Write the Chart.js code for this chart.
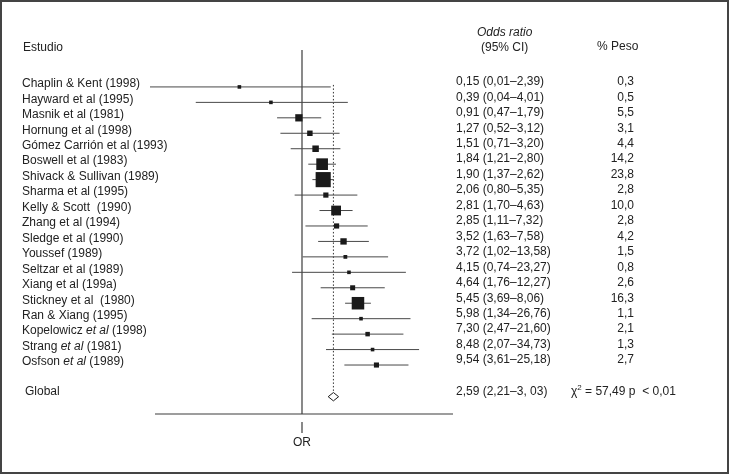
<!DOCTYPE html>
<html>
<head>
<meta charset="utf-8">
<script src="https://cdn.jsdelivr.net/npm/chart.js@4.4.0/dist/chart.umd.min.js"></script>
<style>
body { margin: 0; background: #fff; }
</style>
</head>
<body>
<canvas id="forestChart" width="730" height="475"></canvas>
<script>
// datos del metaanálisis
const studies = [
    "Chaplin & Kent (1998)", "Hayward et al (1995)", "Masnik et al (1981)", "Hornung et al (1998)",
    "Gómez Carrión et al (1993)", "Boswell et al (1983)", "Shivack & Sullivan (1989)", "Sharma et al (1995)",
    "Kelly & Scott  (1990)", "Zhang et al (1994)", "Sledge et al (1990)", "Youssef (1989)",
    "Seltzar et al (1989)", "Xiang et al (199a)", "Stickney et al  (1980)", "Ran & Xiang (1995)",
    "Kopelowicz *et al* (1998)", "Strang *et al* (1981)", "Osfson *et al* (1989)"
];
const oddsRatios = [0.15, 0.39, 0.91, 1.27, 1.51, 1.84, 1.90, 2.06, 2.81, 2.85, 3.52, 3.72, 4.15, 4.64, 5.45, 5.98, 7.30, 8.48, 9.54];
const ciLower = [0.01, 0.04, 0.47, 0.52, 0.71, 1.21, 1.37, 0.80, 1.70, 1.11, 1.63, 1.02, 0.74, 1.76, 3.69, 1.34, 2.47, 2.07, 3.61];
const ciUpper = [2.39, 4.01, 1.79, 3.12, 3.20, 2.80, 2.62, 5.35, 4.63, 7.32, 7.58, 13.58, 23.27, 12.27, 8.06, 26.76, 21.60, 34.73, 25.18];
const weights = [0.3, 0.5, 5.5, 3.1, 4.4, 14.2, 23.8, 2.8, 10.0, 2.8, 4.2, 1.5, 0.8, 2.6, 16.3, 1.1, 2.1, 1.3, 2.7];
const pooledOR = [2.59, 2.21, 3.03]; // OR, IC inferior, IC superior
const pooledLabel = "2,59 (2,21–3, 03)";
const chiLabel = ["χ", "2", " = 57,49 p  < 0,01"];

const globalRow = 20.05;
const yMin = -2.39, yMax = 21.17;
const ink = "#1a1a1a";
const FONT = "12px 'Liberation Sans', Arial, sans-serif";

function fmt(v, d) { return v.toFixed(d).replace(".", ","); }

const datasets = [];

// cuadrados (tamaño según el peso)
datasets.push({
    data: oddsRatios.map((v, i) => ({ x: v, y: i })),
    pointStyle: "rect",
    pointRadius: weights.map(w => Math.max(3.6, 3.1 * Math.sqrt(w)) / Math.SQRT2),
    backgroundColor: ink,
    borderWidth: 0,
    showLine: false
});

// rombo del global
datasets.push({
    data: [
        { x: pooledOR[1], y: globalRow }, { x: pooledOR[0], y: globalRow - 0.27 },
        { x: pooledOR[2], y: globalRow }, { x: pooledOR[0], y: globalRow + 0.27 },
        { x: pooledOR[1], y: globalRow }
    ],
    showLine: true, borderColor: ink, borderWidth: 1, pointRadius: 0, tension: 0
});

// intervalos de confianza
ciLower.forEach((lo, i) => {
    datasets.push({
        data: [{ x: lo, y: i }, { x: ciUpper[i], y: i }],
        showLine: true, borderColor: "#484848", borderWidth: 1, pointRadius: 0
    });
});

// línea OR = 1
datasets.push({
    data: [{ x: 1, y: yMin }, { x: 1, y: yMax }],
    showLine: true, borderColor: "#3c3c3c", borderWidth: 1.2, pointRadius: 0
});

// línea punteada del OR global
datasets.push({
    data: [{ x: pooledOR[0], y: -0.13 }, { x: pooledOR[0], y: globalRow - 0.27 }],
    showLine: true, borderColor: "#333", borderWidth: 1, borderDash: [1.5, 2], pointRadius: 0
});

function drawName(ctx, text, x, y) {
    // partes entre * en cursiva
    const parts = text.split("*");
    let cx = x;
    parts.forEach((p, k) => {
        ctx.font = (k % 2 ? "italic " : "") + FONT;
        ctx.fillText(p, cx, y);
        cx += ctx.measureText(p).width;
    });
}

const tablePlugin = {
    id: "tabla",
    afterDraw(chart) {
        const ctx = chart.ctx;
        const xs = chart.scales.x, ys = chart.scales.y;
        const area = chart.chartArea;
        ctx.save();

        // marco
        ctx.strokeStyle = "#444";
        ctx.lineWidth = 2;
        ctx.strokeRect(1, 1, 727, 472);

        // eje horizontal y marca de OR
        ctx.strokeStyle = "#3c3c3c";
        ctx.lineWidth = 1.2;
        ctx.beginPath();
        ctx.moveTo(area.left + 5, area.bottom);
        ctx.lineTo(area.right - 1, area.bottom);
        const x1 = xs.getPixelForValue(1);
        ctx.moveTo(x1, area.bottom + 8);
        ctx.lineTo(x1, area.bottom + 19);
        ctx.stroke();

        ctx.fillStyle = "#222";
        ctx.textBaseline = "middle";
        ctx.font = FONT;
        ctx.textAlign = "center";
        ctx.fillText("OR", x1, area.bottom + 29);

        // cabeceras
        ctx.textAlign = "left";
        ctx.fillText("Estudio", 23, 48);
        ctx.fillText("(95% CI)", 481, 48);
        ctx.fillText("% Peso", 597, 47);
        ctx.font = "italic " + FONT;
        ctx.fillText("Odds ratio", 477, 33);

        // filas
        studies.forEach((s, i) => {
            const y = ys.getPixelForValue(i);
            ctx.textAlign = "left";
            drawName(ctx, s, 22, y - 3);
            ctx.font = FONT;
            ctx.fillText(fmt(oddsRatios[i], 2) + " (" + fmt(ciLower[i], 2) + "–" + fmt(ciUpper[i], 2) + ")", 456, y - 5);
            ctx.textAlign = "right";
            ctx.fillText(fmt(weights[i], 1), 634, y - 5);
        });

        const gy = ys.getPixelForValue(globalRow) - 5;
        ctx.textAlign = "left";
        ctx.fillText("Global", 25, gy);
        ctx.fillText(pooledLabel, 456, gy);

        // chi cuadrado con superíndice
        let cx = 571;
        ctx.fillText(chiLabel[0], cx, gy);
        cx += ctx.measureText(chiLabel[0]).width;
        ctx.font = "8px 'Liberation Sans', Arial, sans-serif";
        ctx.fillText(chiLabel[1], cx, gy - 4);
        cx += ctx.measureText(chiLabel[1]).width;
        ctx.font = FONT;
        ctx.fillText(chiLabel[2], cx, gy);
        ctx.restore();
    }
};

new Chart(document.getElementById("forestChart"), {
    type: "scatter",
    data: { datasets: datasets },
    options: {
        responsive: false,
        animation: false,
        layout: { padding: { left: 150, right: 276, top: 50, bottom: 61 } },
        plugins: { legend: { display: false }, tooltip: { enabled: false } },
        scales: {
            x: { type: "logarithmic", min: 0.01, max: 100, display: false },
            y: { type: "linear", min: yMin, max: yMax, reverse: true, display: false }
        }
    },
    plugins: [tablePlugin]
});
</script>
</body>
</html>
